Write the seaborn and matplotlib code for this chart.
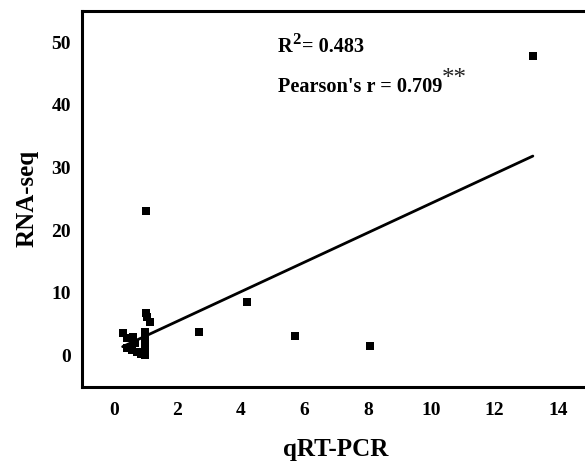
import matplotlib
matplotlib.use("Agg")
import matplotlib.pyplot as plt
import seaborn as sns
import numpy as np
import pandas as pd

qrt_pcr = [13.2, 8.07, 5.71, 4.21, 2.68, 1.0, 1.0, 1.05, 1.15, 0.28, 0.41, 0.62, 0.67,
           0.41, 0.57, 0.72, 0.99, 0.99, 0.99, 0.99, 0.99, 0.99, 0.85]
rna_seq = [47.8, 1.44, 3.03, 8.45, 3.73, 23.1, 6.8, 6.2, 5.4, 3.5, 2.8, 3.0, 2.0,
           1.2, 0.9, 0.6, 3.8, 3.0, 2.2, 1.4, 0.6, 0.0, 0.3]
x_ticks = [0, 2, 4, 6, 8, 10, 12, 14]
y_ticks = [0, 10, 20, 30, 40, 50]
r2_text = "0.483"
pearson_text = "0.709"

df = pd.DataFrame({"qRT-PCR": qrt_pcr, "RNA-seq": rna_seq})

sns.set_style("white")
plt.rcParams["font.family"] = ["Liberation Serif", "DejaVu Serif"]
plt.rcParams["font.weight"] = "bold"
for k in ["text.color", "axes.labelcolor", "xtick.color", "ytick.color"]:
    plt.rcParams[k] = "black"

fig = plt.figure(figsize=(5.85, 4.61), dpi=100)
ax = fig.add_axes([82 / 585, 1 - 386.7 / 461, (590 - 82) / 585, (386.7 - 11) / 461])

sns.regplot(data=df, x="qRT-PCR", y="RNA-seq", ax=ax, ci=None, marker="s",
            scatter_kws=dict(s=40, color="black", linewidths=0, alpha=1),
            line_kws=dict(color="black", lw=2.0))

ax.set_xlim(-1, 15)
ax.set_ylim(-5, 55)
ax.set_xticks(x_ticks)
ax.set_yticks(y_ticks)
ax.set_xticklabels([str(t) for t in x_ticks], fontsize=14, fontweight="bold")
ax.set_yticklabels([str(t) for t in y_ticks], fontsize=14, fontweight="bold")
ax.tick_params(axis="both", direction="out", length=5, width=2, colors="black")
ax.tick_params(axis="x", pad=6)
ax.tick_params(axis="y", pad=3)
for s in ax.spines.values():
    s.set_linewidth(2.2)
    s.set_color("black")
ax.set_xlabel("qRT-PCR", fontsize=18, fontweight="bold", labelpad=14)
ax.set_ylabel("RNA-seq", fontsize=18, fontweight="bold", labelpad=9)

fs = 14.6
ax.annotate("R", xy=(5.17, 49.2), fontsize=fs, fontweight="bold", va="center", ha="left")
ax.annotate("2", xy=(5.17, 49.2), xytext=(10.3, 5), textcoords="offset points",
            fontsize=12, fontweight="bold", va="center", ha="left")
ax.annotate("= " + r2_text, xy=(5.17, 49.2), xytext=(17.0, 0), textcoords="offset points",
            fontsize=fs, fontweight="bold", va="center", ha="left")
ax.text(5.17, 42.9, "Pearson's r = " + pearson_text, fontsize=fs, fontweight="bold",
        va="center", ha="left")
ax.text(10.33, 44.2, "**", fontsize=18, fontweight="normal", color="#222222",
        va="center", ha="left")

fig.savefig("out.png", dpi=100)
